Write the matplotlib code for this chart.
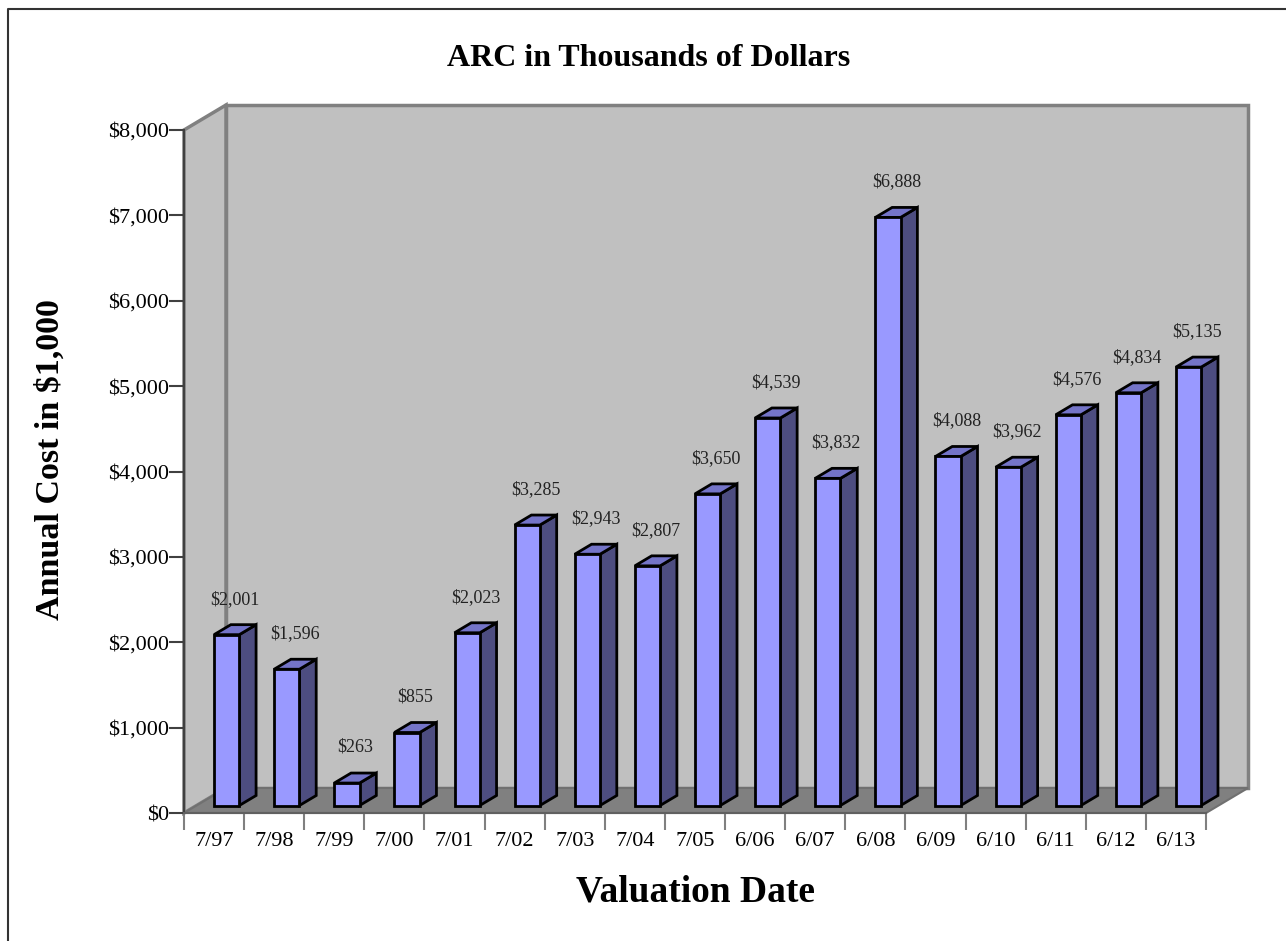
import numpy as np
import matplotlib.pyplot as plt
from matplotlib.patches import Polygon, Rectangle
from matplotlib.lines import Line2D

plt.rcParams['font.family'] = ['Liberation Serif', 'DejaVu Serif']

# Datos
fechas = ['7/97', '7/98', '7/99', '7/00', '7/01', '7/02', '7/03', '7/04', '7/05',
          '6/06', '6/07', '6/08', '6/09', '6/10', '6/11', '6/12', '6/13']
arc = [2001, 1596, 263, 855, 2023, 3285, 2943, 2807, 3650,
       4539, 3832, 6888, 4088, 3962, 4576, 4834, 5135]
yticks = np.arange(0, 8001, 1000)

n = len(fechas)
ymax = 8000

fig = plt.figure(figsize=(12.86, 9.41), dpi=100)
ax = fig.add_axes([184 / 1286, (941 - 813) / 941, (1206 - 184) / 1286, (813 - 130) / 941])
ax.set_xlim(0, n)
ax.set_ylim(0, ymax)
ax.patch.set_visible(False)

# profundidad 3D en unidades de datos
px_x = (1206 - 184) / n
px_y = (813 - 130) / ymax
DX = 42 / px_x
DY = 25 / px_y

wall = '#C0C0C0'
edge = '#808080'
# pared trasera, pared lateral y piso
ax.add_patch(Polygon([(DX, DY), (n + DX, DY), (n + DX, ymax + DY), (DX, ymax + DY)],
                     closed=True, fc=wall, ec=edge, lw=2.5, clip_on=False, zorder=0))
ax.add_patch(Polygon([(0, 0), (DX, DY), (DX, ymax + DY), (0, ymax)],
                     closed=True, fc=wall, ec=edge, lw=2.5, clip_on=False, zorder=0))
ax.add_patch(Polygon([(0, 0), (n, 0), (n + DX, DY), (DX, DY)],
                     closed=True, fc='#808080', ec='#707070', lw=1.5, clip_on=False, zorder=1))

# barras 3D
w = 0.42
f0 = 0.3
bd = 0.4
for i, v in enumerate(arc):
    x0 = i + 0.5 - w / 2 + f0 * DX
    y0 = f0 * DY
    ddx, ddy = bd * DX, bd * DY
    ax.add_patch(Polygon([(x0 + w, y0), (x0 + w + ddx, y0 + ddy), (x0 + w + ddx, y0 + v + ddy), (x0 + w, y0 + v)],
                         closed=True, fc='#4D4D80', ec='black', lw=2, clip_on=False, zorder=3, joinstyle='miter'))
    ax.add_patch(Polygon([(x0, y0 + v), (x0 + w, y0 + v), (x0 + w + ddx, y0 + v + ddy), (x0 + ddx, y0 + v + ddy)],
                         closed=True, fc='#7474C8', ec='black', lw=2, clip_on=False, zorder=3, joinstyle='miter'))
    ax.add_patch(Rectangle((x0, y0), w, v, fc='#9999FF', ec='black', lw=2, clip_on=False, zorder=4, joinstyle='miter'))
    ax.annotate(f'${v:,}', (x0 + w / 2 + ddx / 2, y0 + v + ddy / 2), xytext=(0, 22),
                textcoords='offset points', ha='center', va='center', fontsize=13, color='#222222')

# ejes
for s in ['top', 'right']:
    ax.spines[s].set_visible(False)
ax.spines['left'].set_color('#404040')
ax.spines['left'].set_linewidth(1.5)
ax.spines['bottom'].set_color('#606060')
ax.spines['bottom'].set_linewidth(1.5)
ax.spines['left'].set_zorder(5)
ax.spines['bottom'].set_zorder(5)

ax.set_yticks(yticks)
ax.set_yticklabels([f'${t:,}' for t in yticks], fontsize=16)
ax.tick_params(axis='y', length=11, width=1.5, color='#404040', pad=0)

ax.set_xticks(np.arange(0, n + 1))
ax.set_xticklabels([])
ax.tick_params(axis='x', which='major', length=12, width=1.5, color='#808080')
ax.set_xticks(np.arange(n) + 0.5, minor=True)
ax.set_xticklabels(fechas, minor=True, fontsize=16)
ax.tick_params(axis='x', which='minor', length=0, pad=14)

fig.text(0.504, 1 - 58 / 941, 'ARC in Thousands of Dollars', ha='center', va='center',
         fontsize=23, fontweight='bold')
fig.text(0.541, 1 - 892 / 941, 'Valuation Date', ha='center', va='center',
         fontsize=27, fontweight='bold')
fig.text(50 / 1286, 1 - 460 / 941, 'Annual Cost in $1,000', ha='center', va='center',
         rotation=90, fontsize=24.5, fontweight='bold')

# marco exterior
bx, by = 8 / 1286, 1 - 9 / 941
fig.add_artist(Line2D([bx, bx, 1], [0, by, by], transform=fig.transFigure, color='#333333', lw=1.5))

fig.savefig('out.png', dpi=100)
